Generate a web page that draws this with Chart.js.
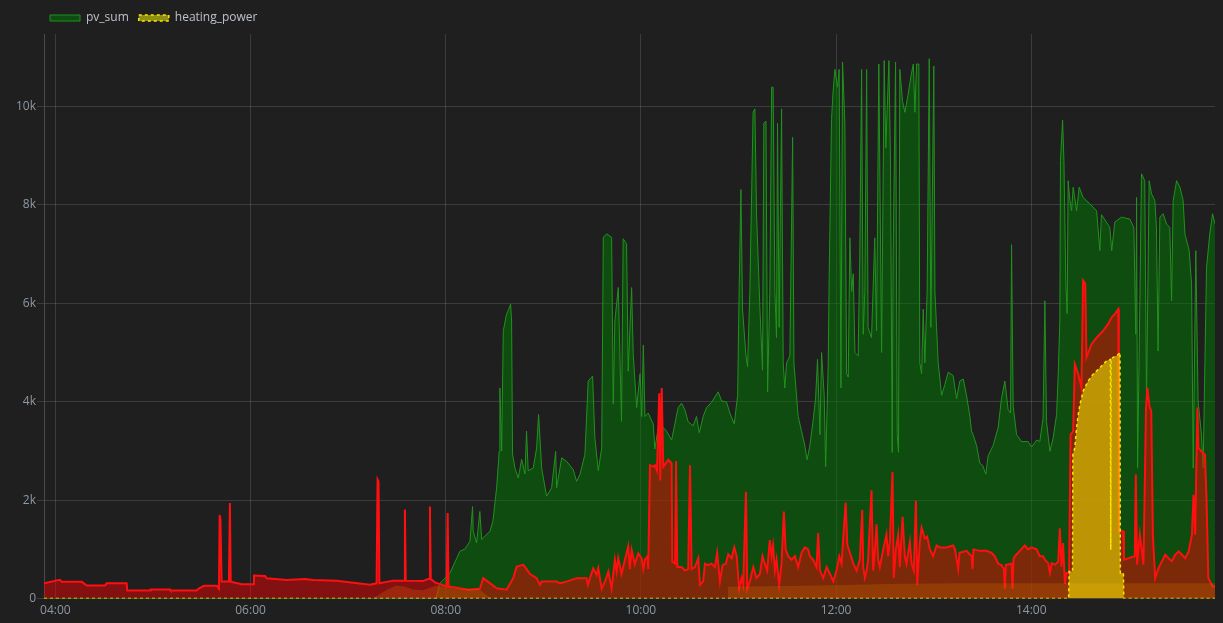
<!DOCTYPE html>
<html>
<head>
<meta charset="utf-8">
<script src="https://cdn.jsdelivr.net/npm/chart.js@4/dist/chart.umd.min.js"></script>
<style>
  html, body { margin: 0; padding: 0; background: #1f1f20; }
  #wrap { width: 1223px; height: 623px; }
</style>
</head>
<body>
<div id="wrap"><canvas id="chart" width="1223" height="623"></canvas></div>
<script>
// time axis is minutes since midnight, values in W
const timeTicks = [240, 360, 480, 600, 720, 840];
const timeLabels = ['04:00', '06:00', '08:00', '10:00', '12:00', '14:00'];
const valueTicks = [0, 2000, 4000, 6000, 8000, 10000];
const valueLabels = ['0', '2k', '4k', '6k', '8k', '10k'];

// pv_sum [minute, W]
const pvSum = [
  [233,0],[474,0],[476.4,310],[482.6,515],[488.7,960],[491.8,1010],[494.9,1160],[496.5,1870],[496.9,1370],
  [499,1130],[501,1770],[502.1,1200],[507.2,1370],[509,1570],[511.3,2250],[512.9,2990],[513.3,4280],
  [514.4,3000],[515.4,5440],[517.4,5780],[518.4,5850],[519.9,5980],[520.5,5640],[521.1,2930],[522.6,2650],
  [524.6,2450],[526.7,2830],[528.7,2530],[529.7,3400],[530.7,2600],[533.8,2650],[535.9,3060],[537.1,3740],
  [539,2650],[542,2080],[545.1,2250],[547.6,2990],[548.2,2250],[551.3,2860],[554.3,2790],[558.4,2620],
  [560.5,2380],[562.5,2520],[565.6,2930],[567.6,4420],[570.3,4520],[571.7,3270],[573.8,2600],[575.9,3060],
  [576.9,7340],[579,7410],[582,7340],[583,3950],[584,5640],[586.1,6320],[588.1,3600],[589.1,7310],
  [591.2,7210],[592.2,4620],[594.3,6320],[595.3,4960],[597.4,3880],[599.5,4570],[600.5,3700],[601.5,5150],
  [602.5,3700],[604.5,3770],[607.6,3550],[608.6,3040],[610.7,3480],[613.7,3480],[615.8,3400],[618.9,3220],
  [620.9,3550],[622.9,3880],[625,3970],[627,3840],[629.1,3590],[632.2,3510],[634.2,3700],[635.9,3370],
  [638.3,3700],[640.4,3880],[643.5,3990],[647.5,4200],[649.6,4020],[652.7,3990],[654.7,3770],[657.4,3550],
  [659.5,4130],[660.4,6240],[661.5,8310],[662.5,5880],[664.6,4930],[665.6,4710],[667,6240],[669,9880],
  [670.1,9950],[671.1,7840],[673.2,5880],[674.8,4640],[675.6,9660],[676.9,9700],[677.9,4200],[679.3,6240],
  [680.4,10390],[681.3,10390],[682.4,6240],[683.4,5300],[684,9660],[685,5510],[686.5,9950],[687.5,4790],
  [688.5,4280],[689.6,4790],[691.6,4930],[693.3,9370],[694.1,4790],[696.7,3700],[698.8,3400],[700.8,3110],
  [702.2,2820],[703.9,3110],[705.9,3620],[707.4,4060],[708.6,4860],[710.1,3330],[711.1,5000],[712.7,4130],
  [713.6,2680],[715.2,4790],[715.8,6600],[717.2,9730],[718.2,10310],[719.3,10750],[720.9,10390],[721.9,10750],
  [723,4280],[724,10900],[725.4,9660],[726.5,4570],[727.5,4500],[728.5,7330],[729.6,6240],[730.6,6600],
  [731.6,5000],[733.6,4930],[734.6,6970],[735.7,10750],[736.7,5370],[737.7,6240],[738.8,10750],[739.7,5510],
  [741.8,5300],[743.8,7330],[744.9,5440],[746.3,10860],[748,5000],[749.6,10930],[750.6,9150],[752.5,10930],
  [753.5,8790],[754.5,2970],[755.1,6970],[756.6,10900],[757.6,3330],[758.4,2970],[759.2,10750],[760.9,10100],
  [762.3,9880],[764.3,10240],[766,10600],[767.5,10860],[768.5,9880],[769.5,10860],[770.9,10860],[771.5,4790],
  [772.6,4570],[773.6,5880],[774.6,4790],[776,6240],[777.3,10970],[778.3,5510],[780.1,10820],[780.8,6240],
  [781.8,5510],[782.8,4790],[784.9,4130],[786.9,4350],[789,4600],[792,4530],[794.1,4060],[796.1,4420],
  [798.2,4460],[800.2,4130],[802.3,3700],[803.3,3400],[804.3,3330],[806.4,3110],[808.4,2750],[810.1,2710],
  [812.1,2530],[813.5,2900],[816.6,3110],[819.7,3480],[821.7,4060],[823.8,4420],[825.8,3840],[827.3,3770],
  [827.9,7190],[828.9,3910],[831,3330],[834,3190],[838.1,3190],[840.2,3080],[843.3,3220],[845.3,3190],
  [847.3,3670],[848.4,6050],[849.4,3600],[851.5,2990],[853.5,3270],[855.6,3740],[856.6,4560],[857.6,5640],
  [858,8900],[859.3,9720],[860.1,8900],[861.3,6390],[862.1,5790],[862.7,8490],[863.8,8090],[864.8,7880],
  [865.8,8360],[867.9,7880],[869.5,8360],[871.9,8150],[876,8020],[880.2,7880],[882.2,7070],[883.2,7800],
  [888.3,7540],[889.5,7070],[891.4,7650],[895.5,7750],[900.6,7710],[903.1,7540],[904.3,5370],[904.8,8150],
  [905.4,2650],[906.8,6050],[907.8,8630],[909.8,8490],[910.9,4010],[912.5,8490],[914,8220],[916,8090],
  [917,7540],[918,5030],[919.1,7750],[921.1,7820],[923.2,7610],[925.2,7540],[926.3,6050],[927.3,8090],
  [929.4,8490],[931.4,8360],[933.4,8090],[934.5,7410],[937.1,7070],[938.6,6390],[939.6,2650],[941.2,7070],
  [942.6,4010],[944.7,3330],[945.7,2650],[947.8,6730],[949.8,7410],[951.5,7820],[953,7610]
];

// house consumption (red, not in legend) [minute, W]
const consumption = [
  [233,310],[242.8,380],[243.9,340],[256.2,340],[259.3,265],[270.5,265],[271.5,310],[283.8,310],[284.2,165],
  [298.2,165],[298.6,185],[310.5,185],[310.9,165],[326.9,165],[327.9,200],[331.4,260],[339.2,260],[340.6,200],
  [341,1700],[341.5,1600],[342.2,345],[346.7,345],[347.3,1940],[347.8,345],[354.5,290],[361.7,290],[362.1,470],
  [368.9,460],[369.9,415],[375,400],[382.2,380],[393.5,400],[398.6,380],[412.9,365],[433.4,280],[437.5,310],
  [438.1,2420],[438.7,2380],[439.2,310],[447.7,365],[454.6,365],[454.9,1810],[455.4,365],[466.2,360],
  [469.3,400],[470.1,400],[470.3,1870],[470.8,400],[473.4,330],[480.6,245],[481.2,1740],[481.7,245],
  [488.7,210],[493.8,180],[501,200],[503.1,415],[506.1,340],[511.3,210],[517.4,180],[521.5,415],[523.6,650],
  [527.7,685],[529.7,600],[531.8,500],[535.9,415],[537.9,280],[539,345],[548.2,345],[550.2,310],[554.3,345],
  [560.5,415],[566.6,415],[567.4,280],[568.7,415],[570.7,615],[572.8,480],[573.8,615],[575.9,200],[577.9,345],
  [580,550],[582,200],[584,790],[585.1,550],[586.1,820],[588.1,500],[590.2,790],[592.2,1060],[593.2,600],
  [594.3,990],[596.3,700],[598.4,920],[599.5,860],[600.5,820],[601.5,600],[602.5,790],[604,860],[604.5,600],
  [605.6,2710],[607.6,2680],[608.6,2710],[609.9,2600],[611.3,4170],[611.9,2400],[612.8,4280],[613.8,2680],
  [616.9,2820],[618.9,2750],[619.3,750],[621,710],[621.6,2790],[622.4,640],[625,640],[627.1,570],[629.1,600],
  [630.2,2710],[631.2,600],[633.2,640],[635.3,820],[636.3,280],[638.3,350],[639.4,710],[641.4,680],[643.5,710],
  [645.5,640],[646.9,930],[648.6,350],[650.2,680],[652.3,710],[653.7,900],[655.8,820],[657.4,1040],[658.9,860],
  [660.4,200],[661.9,420],[662.9,280],[664.6,2170],[665.4,200],[667,350],[669.1,640],[671.1,420],[673.2,500],
  [674.8,860],[676.2,710],[677.6,570],[679.3,1190],[680.4,860],[681.3,1080],[682.4,570],[683.4,790],[685,280],
  [686.5,710],[687.9,1770],[689,1000],[690.6,860],[692.6,790],[694.7,860],[696.7,640],[698.8,930],[700.8,1040],
  [702.8,1000],[703.9,860],[705.9,790],[708,640],[709,1330],[710.1,570],[712.1,420],[714.2,640],[716.3,500],
  [718.3,350],[720.3,570],[722,860],[723.4,710],[724.4,1220],[725.9,1950],[726.9,1100],[728.5,930],[730.6,710],
  [732.6,570],[734.6,790],[736.1,1800],[736.7,640],[737.7,420],[738.8,570],[739.7,790],[741.8,2200],[742.8,570],
  [743.8,930],[744.9,1510],[745.9,790],[746.9,640],[749,1000],[751,1300],[752,860],[753.1,1150],[754.7,2570],
  [755.5,420],[756.8,1000],[758.2,1300],[759.2,640],[760.9,1660],[762.3,860],[763.3,710],[765.4,1150],
  [766.4,710],[767.8,570],[769.1,1990],[769.9,280],[771.5,1150],[772.6,1440],[774.6,1220],[776,1260],
  [777.7,1000],[779.7,860],[781.8,1080],[783.8,1040],[787.9,1040],[792,1080],[793.1,1000],[795.1,600],
  [795.9,930],[800.2,970],[803.3,860],[803.9,600],[804.5,1000],[808.4,970],[812.5,970],[815.6,930],[817.6,860],
  [819.7,710],[821.7,680],[823.2,600],[823.8,200],[824.4,680],[827.9,710],[828.5,200],[829.1,800],[829.9,860],
  [833,970],[836.1,1080],[838.1,1000],[840.2,1040],[843.3,1000],[845.3,860],[847.3,860],[848.4,790],[850.4,720],
  [851.5,520],[852.6,720],[854.6,690],[856.6,750],[857.6,1430],[858.6,650],[859.6,1130],[860.7,300],[861.7,520],
  [863.3,520],[864.2,3330],[865.8,3400],[866.8,4760],[868.9,4560],[870.9,4280],[871.9,6460],[873.2,6400],
  [874,4900],[877.1,5170],[880.2,5300],[882.2,5370],[884.2,5440],[887.3,5580],[889.4,5710],[891.4,5780],
  [893.5,5880],[893.9,1370],[896.5,1370],[897,790],[903.7,860],[904.3,2520],[905.1,690],[906.8,1300],
  [909,690],[910,2650],[910.6,3880],[911.4,4280],[912.7,3900],[913.8,3810],[914.8,1300],[916.2,415],[918.3,620],
  [920.4,760],[922.4,890],[924.4,820],[926.5,760],[928.5,890],[930.6,960],[932.7,890],[934.7,820],[936.8,960],
  [938.8,1300],[939.8,2110],[940.8,1300],[942.2,3880],[942.8,3060],[944.7,2990],[946.8,2930],[947.8,2000],
  [948.9,415],[949.9,350],[951.5,245],[953,245]
];

// heating_power [minute, W]
const heatingPower = [
  [233,0],[863,0],[863.3,550],[865.4,550],[865.6,2930],[866.8,3060],[867.9,3470],[868.9,3740],[870,3950],
  [872,4220],[875,4420],[878.1,4560],[882.2,4690],[886.3,4830],[888.7,4860],[888.9,990],[889.1,4870],
  [890.4,4900],[893.5,4960],[894.6,5000],[894.8,520],[896.7,520],[896.9,0],[953,0]
];

// low orange base band (not in legend) [minute, W]
const baseLoad = [
  [233,0],[435.3,0],[443.7,180],[449.8,265],[455,240],[459.8,185],[466,170],[470.3,220],[474.4,265],
  [480.6,220],[490,190],[500,200],[508,0],[653,0],[653.5,240],[700,260],[760,300],[800,310],[953,310]
];

function toPoints(pairs) {
  return pairs.map(p => ({ x: p[0], y: p[1] }));
}

// shift the legend so it starts above the plot area, like the original panel
const legendShift = {
  id: 'legendShift',
  afterLayout: function (chart) {
    chart.legend.left = 40;
  },
};

const ctx = document.getElementById('chart').getContext('2d');
new Chart(ctx, {
  type: 'line',
  data: {
    datasets: [
      {
        label: 'pv_sum',
        data: toPoints(pvSum),
        borderColor: '#22921e',
        backgroundColor: 'rgba(0,122,0,0.5)',
        borderWidth: 1,
        fill: 'origin',
        order: 4,
      },
      {
        label: 'heating_power',
        data: toPoints(heatingPower),
        borderColor: '#ffe600',
        backgroundColor: 'rgba(255,255,0,0.5)',
        borderWidth: 1.5,
        borderDash: [3, 3],
        fill: 'origin',
        order: 1,
      },
      {
        label: 'consumption',
        data: toPoints(consumption),
        borderColor: '#ff1010',
        backgroundColor: 'rgba(255,0,0,0.45)',
        borderWidth: 2,
        fill: 'origin',
        order: 3,
      },
      {
        label: 'base',
        data: toPoints(baseLoad),
        borderColor: 'rgba(0,0,0,0)',
        backgroundColor: 'rgba(255,140,0,0.18)',
        borderWidth: 0,
        fill: 'origin',
        order: 2,
      },
    ],
  },
  plugins: [legendShift],
  options: {
    responsive: false,
    animation: false,
    devicePixelRatio: 1,
    elements: {
      point: { radius: 0 },
      line: { tension: 0 },
    },
    layout: { padding: { left: 0, top: 2, right: 8, bottom: 0 } },
    plugins: {
      tooltip: { enabled: false },
      legend: {
        position: 'top',
        align: 'start',
        labels: {
          boxWidth: 30,
          boxHeight: 6,
          padding: 10,
          color: '#bcc2c8',
          font: { family: 'Open Sans', size: 12 },
          filter: function (item) {
            return item.datasetIndex < 2;
          },
          sort: function (a, b) {
            return a.datasetIndex - b.datasetIndex;
          },
        },
      },
    },
    scales: {
      x: {
        type: 'linear',
        min: 233,
        max: 953,
        afterBuildTicks: function (scale) {
          scale.ticks = timeTicks.map(v => ({ value: v }));
        },
        ticks: {
          autoSkip: false,
          maxRotation: 0,
          padding: 5,
          color: '#8e98a3',
          font: { family: 'Open Sans', size: 12 },
          callback: function (value) {
            return timeLabels[timeTicks.indexOf(value)];
          },
        },
        grid: { color: 'rgba(255,255,255,0.13)', drawTicks: false },
        border: { display: false },
      },
      y: {
        min: 0,
        max: 11470,
        afterBuildTicks: function (scale) {
          scale.ticks = valueTicks.map(v => ({ value: v }));
        },
        afterFit: function (scale) {
          scale.width = 44;
        },
        ticks: {
          autoSkip: false,
          padding: 1,
          color: '#8e98a3',
          font: { family: 'Open Sans', size: 12 },
          callback: function (value) {
            return valueLabels[valueTicks.indexOf(value)];
          },
        },
        grid: { color: 'rgba(255,255,255,0.13)', tickLength: 7 },
        border: { display: true, color: 'rgba(255,255,255,0.2)' },
      },
    },
  },
});
</script>
</body>
</html>
